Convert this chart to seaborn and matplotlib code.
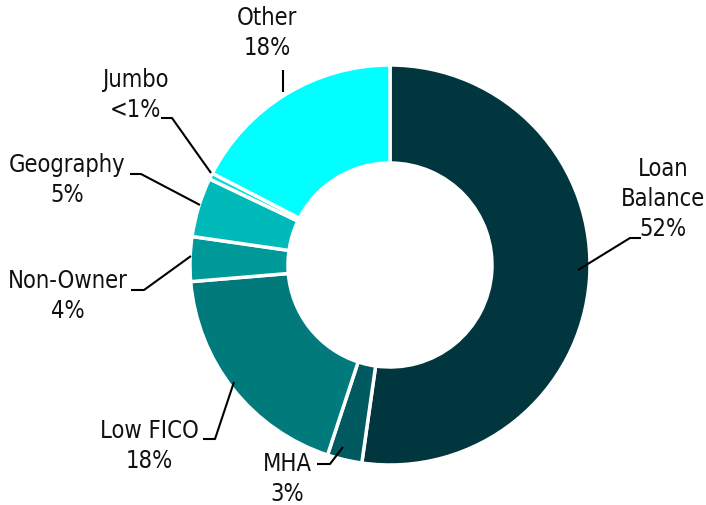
import matplotlib
matplotlib.use("Agg")
import matplotlib.pyplot as plt
import seaborn as sns

sns.set_style("white")
plt.rcParams["font.family"] = ["DejaVu Sans"]

# slice data, clockwise from 12 o'clock
categories = ["Loan Balance", "MHA", "Low FICO", "Non-Owner", "Geography", "Jumbo", "Other"]
shares = [52.2, 2.8, 18.6, 3.6, 4.8, 0.5, 17.4]
labels = ["Loan\nBalance\n52%", "MHA\n3%", "Low FICO\n18%", "Non-Owner\n4%",
          "Geography\n5%", "Jumbo\n<1%", "Other\n18%"]
colors = ["#02363f", "#005a60", "#007a7b", "#009999", "#00baba", "#00dede", "#00ffff"]

W, H = 706, 505

# label placement in image pixels: text centre, leader polyline
label_pos = [(663, 199), (287, 479), (149, 446), (68, 296), (67, 180), (135, 95), (267, 33)]
leaders = [
    [(578, 270), (630, 238), (641, 238)],
    [(343, 447), (330, 464), (317, 464)],
    [(234, 382), (215, 439), (203, 439)],
    [(191, 256), (144, 290), (131, 290)],
    [(200, 205), (141, 174), (130, 174)],
    [(211, 173), (172, 118), (161, 118)],
    [(283, 92), (283, 70)],
]

fig = plt.figure(figsize=(W / 100, H / 100), dpi=100)
ax = fig.add_axes([0, 0, 1, 1])

ax.pie(shares, colors=colors, startangle=90, counterclock=False,
       center=(390, H - 265), radius=200,
       wedgeprops=dict(width=98, edgecolor="white", linewidth=2.5))

for (tx, ty), text, pts in zip(label_pos, labels, leaders):
    ax.plot([p[0] for p in pts], [H - p[1] for p in pts], color="black", lw=1.5,
            solid_capstyle="butt")
    ax.text(tx, H - ty, text, ha="center", va="center", fontsize=17,
            fontstretch="condensed", linespacing=1.32, color="#111111")

ax.set_xlim(0, W)
ax.set_ylim(0, H)
ax.set_aspect("equal")
ax.axis("off")

fig.savefig("out.png", dpi=100)
